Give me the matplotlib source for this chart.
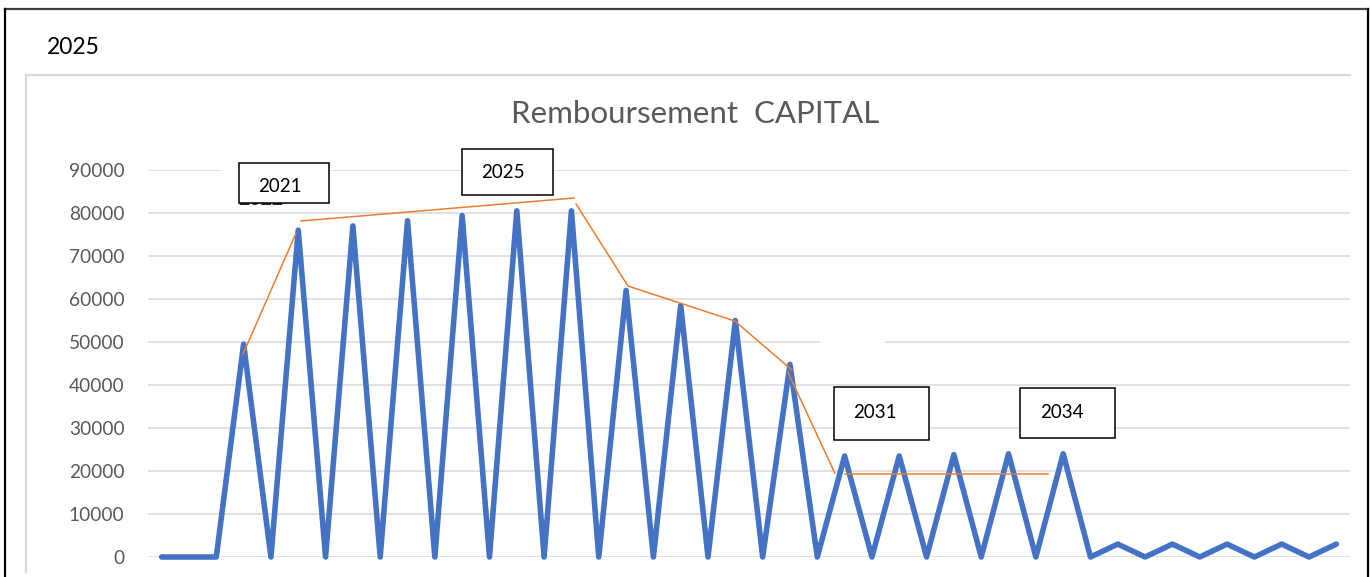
import matplotlib
matplotlib.use("Agg")
import matplotlib.pyplot as plt
from matplotlib.patches import Rectangle
import numpy as np

plt.rcParams['font.family'] = ['Lato', 'DejaVu Sans']

# capital repaid per period (zero between the yearly payments)
capital = [0, 0, 0, 49500, 0, 76000, 0, 77000, 0, 78200, 0, 79400, 0, 80500, 0,
           80500, 0, 62000, 0, 58500, 0, 55000, 0, 44800, 0, 23500, 0, 23500, 0,
           23800, 0, 24000, 0, 24000, 0, 3000, 0, 3000, 0, 3000, 0, 3000, 0, 3000]
yticks = [0, 10000, 20000, 30000, 40000, 50000, 60000, 70000, 80000, 90000]

# hand-drawn orange trend lines (category index, value)
trend_segments = [
    [(2.98, 47200), (4.92, 75350)],
    [(5.10, 78140), (15.10, 83490)],
    [(15.17, 82090), (17.07, 63020), (20.98, 54880), (23.07, 43490)],
    [(22.92, 43020), (24.64, 19530)],
    [(25.01, 19300), (32.44, 19300)],
]

# year call-outs (box in pixels, text position)
callouts = [
    ("2021", (239, 163, 329, 203), (280, 186)),
    ("2025", (462, 149, 553, 195), (503, 172)),
    ("2031", (834, 387, 929, 440), (875, 412)),
    ("2034", (1020, 388, 1115, 438), (1062, 413)),
]

W, H = 1370, 577
fig = plt.figure(figsize=(W / 100, H / 100), dpi=100)
fig.patch.set_facecolor('white')

ax = fig.add_axes([148 / W, 20 / H, (1350 - 148) / W, 387 / H])
x = np.arange(len(capital))
ax.plot(x, capital, color='#4472C4', lw=4.0, solid_joinstyle='round',
        solid_capstyle='round', zorder=3, clip_on=False)
for seg in trend_segments:
    sx, sy = zip(*seg)
    ax.plot(sx, sy, color='#ED7D31', lw=1.1, zorder=4, clip_on=False)

ax.set_xlim(-0.5, len(capital) - 0.5)
ax.set_ylim(0, 90000)
ax.set_yticks(yticks)
ax.set_yticklabels([str(v) for v in yticks])
ax.set_xticks([])
ax.grid(axis='y', color='#D9D9D9', lw=1.1)
ax.set_axisbelow(True)
for s in ax.spines.values():
    s.set_visible(False)
ax.tick_params(axis='y', length=0, pad=17, labelsize=13.8, labelcolor='#595959')

# overlay in pixel coordinates for the screenshot frame and call-outs
ov = fig.add_axes([0, 0, 1, 1], zorder=10)
ov.set_xlim(0, W)
ov.set_ylim(H, 0)
ov.axis('off')
ov.patch.set_visible(False)

# white label backgrounds hiding parts of the grid
ov.add_patch(Rectangle((222, 165), 78, 36, facecolor='white', edgecolor='none'))
ov.add_patch(Rectangle((820, 340), 65, 20, facecolor='white', edgecolor='none'))
ov.text(261, 205, "2022", fontsize=14, color='#222222', ha='center', va='baseline',
        fontweight='bold')

for label, (x0, y0, x1, y1), (tx, ty) in callouts:
    ov.add_patch(Rectangle((x0, y0), x1 - x0, y1 - y0, facecolor='white',
                           edgecolor='black', lw=1.1, zorder=5))
    ov.text(tx, ty, label, fontsize=13.5, color='black', ha='center', va='center',
            zorder=6)

ov.text(47, 47, "2025", fontsize=16.5, color='black', ha='left', va='center')
ov.text(695, 114, "Remboursement  CAPITAL", fontsize=22.5, color='#595959',
        ha='center', va='center')

# screenshot frame
ov.plot([5, 1368], [9, 9], color='#404040', lw=1.6)
ov.plot([5, 5], [9, H], color='black', lw=1.6)
ov.plot([1368, 1368], [9, H], color='black', lw=1.6)
ov.plot([26, 1350], [75, 75], color='#D9D9D9', lw=1.6)
ov.plot([26, 26], [75, 572], color='#D9D9D9', lw=1.6)

fig.savefig('out.png', dpi=100)
